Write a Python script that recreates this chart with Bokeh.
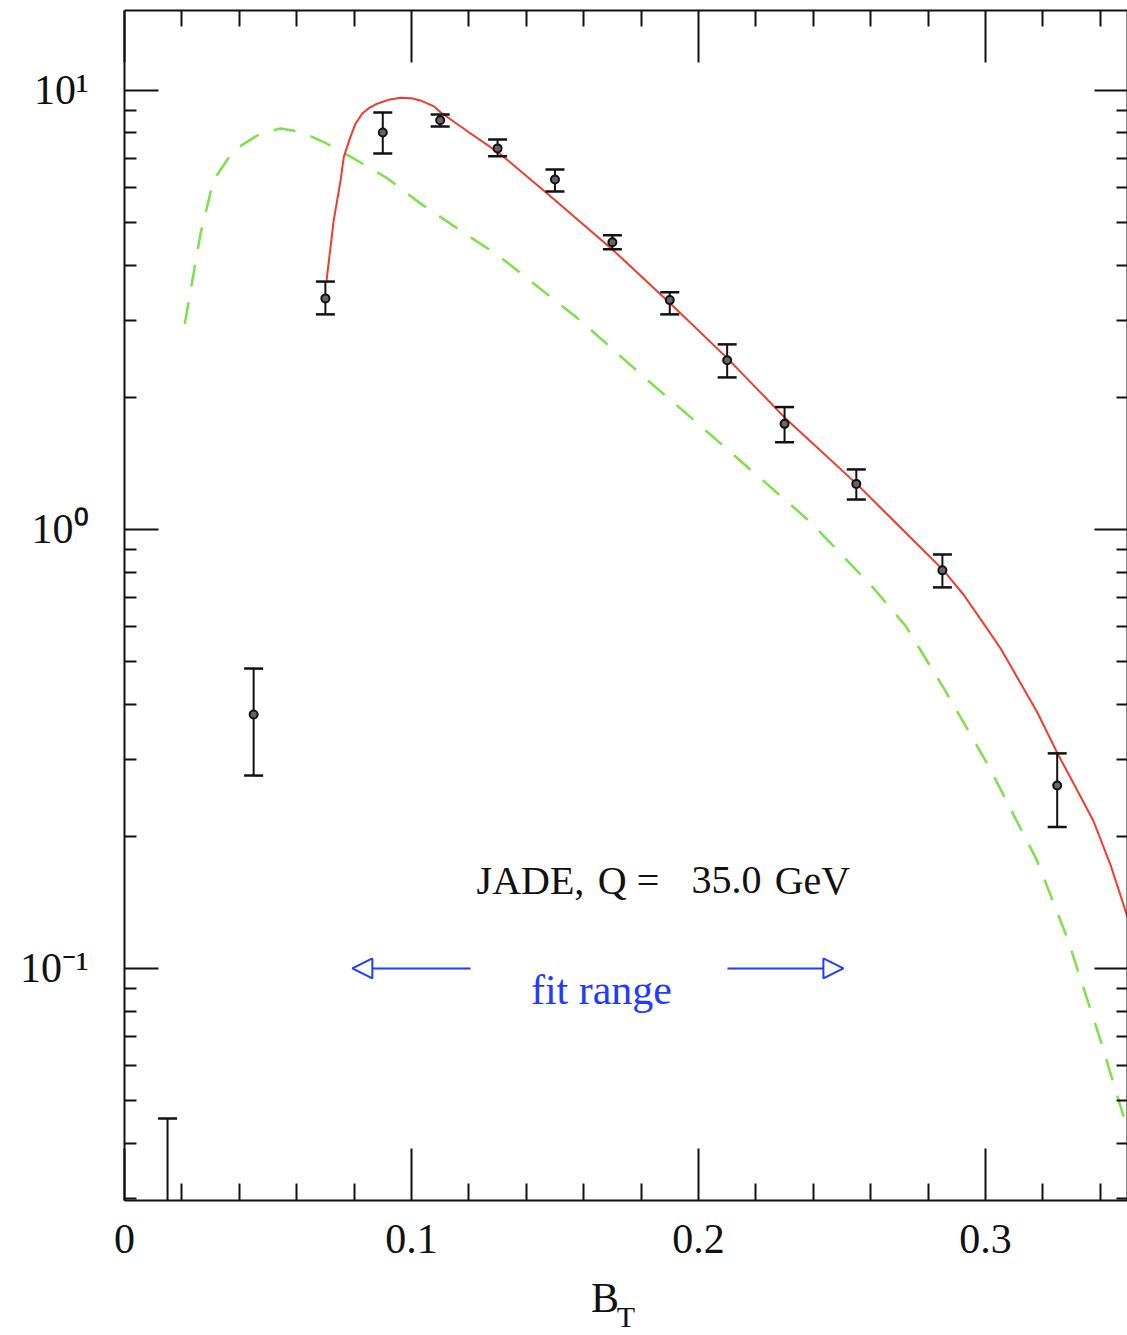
from bokeh.plotting import figure
from bokeh.models import (Range1d, LinearAxis, LogAxis, FixedTicker, Label,
                          Arrow, NormalHead)
from bokeh.embed import file_html
from bokeh.resources import INLINE

# ---------------- data ----------------
bt = [0.015, 0.045, 0.070, 0.090, 0.110, 0.130, 0.150, 0.170, 0.190,
      0.210, 0.230, 0.255, 0.285, 0.325]
dist = [0.020, 0.379, 3.36, 8.02, 8.55, 7.38, 6.27, 4.51, 3.33,
        2.43, 1.74, 1.27, 0.807, 0.261]
err_hi = [0.0455, 0.482, 3.67, 8.91, 8.82, 7.73, 6.61, 4.68, 3.47,
          2.64, 1.90, 1.37, 0.877, 0.309]
err_lo = [0.012, 0.275, 3.09, 7.18, 8.28, 7.08, 5.89, 4.35, 3.09,
          2.22, 1.58, 1.17, 0.738, 0.210]

# full prediction - solid red
fit_x = [0.0704, 0.0729, 0.0753, 0.0764, 0.0787, 0.0805, 0.0828, 0.0852,
         0.0880, 0.0920, 0.0962, 0.1000, 0.1031, 0.1078, 0.1101, 0.1200,
         0.1303, 0.1474, 0.1704, 0.1902, 0.2102, 0.2300, 0.2551, 0.2704,
         0.2854, 0.2924, 0.2993, 0.3052, 0.3111, 0.3180, 0.3251, 0.3315,
         0.3376, 0.3436, 0.3495]
fit_y = [3.69, 5.06, 6.24, 7.05, 7.83, 8.40, 8.85, 9.12,
         9.33, 9.52, 9.62, 9.60, 9.49, 9.20, 8.92, 8.03,
         7.22, 5.82, 4.32, 3.27, 2.45, 1.80, 1.27, 1.01,
         0.807, 0.710, 0.611, 0.537, 0.460, 0.384, 0.309, 0.258,
         0.217, 0.172, 0.131]

# second prediction - green dashed
pt_x = [0.0210, 0.0265, 0.0310, 0.0380, 0.0474, 0.0544, 0.0613, 0.0700,
        0.0798, 0.0916, 0.1031, 0.1160, 0.1310, 0.1589, 0.1815, 0.1986,
        0.2164, 0.2390, 0.2610, 0.2721, 0.2854, 0.3010, 0.3180, 0.3286,
        0.3401, 0.3495]
pt_y = [2.94, 4.72, 6.24, 7.30, 7.98, 8.19, 8.05, 7.60,
        7.00, 6.31, 5.53, 4.85, 4.17, 2.99, 2.21, 1.77,
        1.40, 1.04, 0.735, 0.604, 0.436, 0.290, 0.176, 0.117,
        0.0686, 0.0430]

x_ticks = [0.0, 0.1, 0.2, 0.3]
x_tick_labels = ["0", "0.1", "0.2", "0.3"]
x_minor = [0.02, 0.04, 0.06, 0.08, 0.12, 0.14, 0.16, 0.18, 0.22, 0.24,
           0.26, 0.28, 0.32, 0.34]
y_decades = [0.01, 0.1, 1.0, 10.0]
y_tick_labels = ["", "10\u207b\u00b9", "10\u2070", "10\u00b9"]

fit_range_arrows = [(0.1206, 0.0794), (0.2101, 0.2505)]   # (tail, tip) in B_T

x_lo, x_hi = 0.0, 0.3495
y_lo, y_hi = 0.02961, 15.21


# -------- helpers that place annotations at reference pixel spots --------
def X(px):
    return (px - 124.0) / 2870.0


def Y(py):
    return 10 ** (1.0 - (py - 90.0) / 439.0)


FONT = "Liberation Serif"
INK = "#111111"
BLUE = "#1f3cff"

p = figure(width=1127, height=1335,
           x_range=Range1d(x_lo, x_hi), y_range=Range1d(y_lo, y_hi),
           y_axis_type="log", output_backend="svg", toolbar_location=None,
           min_border_left=124, min_border_top=10, min_border_right=0,
           min_border_bottom=135)
p.outline_line_color = None
p.xgrid.visible = False
p.ygrid.visible = False
p.background_fill_color = "white"
p.border_fill_color = "white"

xticker = FixedTicker(ticks=x_ticks, minor_ticks=x_minor)
y_minor = [d * m for d in y_decades for m in range(2, 10)]
yticker = FixedTicker(ticks=y_decades, minor_ticks=y_minor)


def style(ax, maj, mnr, labels=False):
    ax.axis_line_color = INK
    ax.axis_line_width = 2
    ax.major_tick_line_color = INK
    ax.major_tick_line_width = 2
    ax.minor_tick_line_color = INK
    ax.minor_tick_line_width = 2
    ax.major_tick_in = maj
    ax.major_tick_out = 0
    ax.minor_tick_in = mnr
    ax.minor_tick_out = 0
    if not labels:
        ax.major_label_text_font_size = "1px"
        ax.major_label_text_color = None
        ax.major_label_standoff = 0


# bottom axis: tick labels + "B" of the title
bx = p.xaxis[0]
bx.ticker = xticker
style(bx, 52, 17, labels=True)
bx.major_label_overrides = {t: s for t, s in zip(x_ticks, x_tick_labels)}
bx.major_label_text_font = FONT
bx.major_label_text_font_size = "42px"
bx.major_label_text_color = INK
bx.major_label_standoff = 24
bx.axis_label = "B" + "\u00a0" * 4
bx.axis_label_text_font = FONT
bx.axis_label_text_font_size = "42px"
bx.axis_label_text_font_style = "normal"
bx.axis_label_text_color = INK
bx.axis_label_standoff = 19

# second (invisible) bottom axis carrying the subscript "T"
xsub = LinearAxis(ticker=FixedTicker(ticks=[]))
style(xsub, 0, 0)
xsub.axis_line_color = None
xsub.axis_label = "T"
xsub.axis_label_text_font = FONT
xsub.axis_label_text_font_size = "30px"
xsub.axis_label_text_font_style = "normal"
xsub.axis_label_text_color = INK
xsub.axis_label_standoff = -24
p.add_layout(xsub, "below")

# left axis with 10^n labels
ly = p.yaxis[0]
ly.ticker = yticker
style(ly, 34, 12, labels=True)
ly.major_label_overrides = {t: s for t, s in zip(y_decades, y_tick_labels)}
ly.major_label_text_font = FONT
ly.major_label_text_font_size = "42px"
ly.major_label_text_color = INK
ly.major_label_standoff = 36

top = LinearAxis(ticker=xticker)
style(top, 52, 16)
p.add_layout(top, "above")

right = LogAxis(ticker=yticker)
style(right, 33, 11)
p.add_layout(right, "right")

# ---------------- curves ----------------
p.line(pt_x, pt_y, line_color="#7ee04a", line_width=2.5, line_dash="22 16")
p.line(fit_x, fit_y, line_color="#f23a2c", line_width=2)

# ---------------- data points with error bars ----------------
p.segment(x0=bt, y0=err_lo, x1=bt, y1=err_hi, line_color=INK, line_width=2)
p.scatter(bt, err_hi, marker="dash", size=19, line_color=INK, line_width=2.5)
p.scatter(bt, err_lo, marker="dash", size=19, line_color=INK, line_width=2.5)
p.scatter(bt, dist, marker="circle", size=8, fill_color="#666666",
          line_color=INK, line_width=2)

# ---------------- annotation text ----------------
for word, cx in [("JADE,", 530), ("Q =", 628), ("35.0", 726), ("GeV", 812)]:
    p.add_layout(Label(x=X(cx), y=Y(880), text=word, text_font=FONT,
                       text_font_size="40px", text_color=INK,
                       text_align="center", text_baseline="alphabetic"))

p.add_layout(Label(x=X(601), y=Y(990), text="fit range", text_font=FONT,
                   text_font_size="42px", text_color=BLUE,
                   text_align="center", text_baseline="alphabetic"))

for tail, tip in fit_range_arrows:
    p.add_layout(Arrow(end=NormalHead(size=20, fill_color="white",
                                      line_color=BLUE, line_width=2),
                       x_start=tail, y_start=0.1, x_end=tip, y_end=0.1,
                       line_color=BLUE, line_width=2))

open("out.html", "w").write(file_html(p, INLINE))
